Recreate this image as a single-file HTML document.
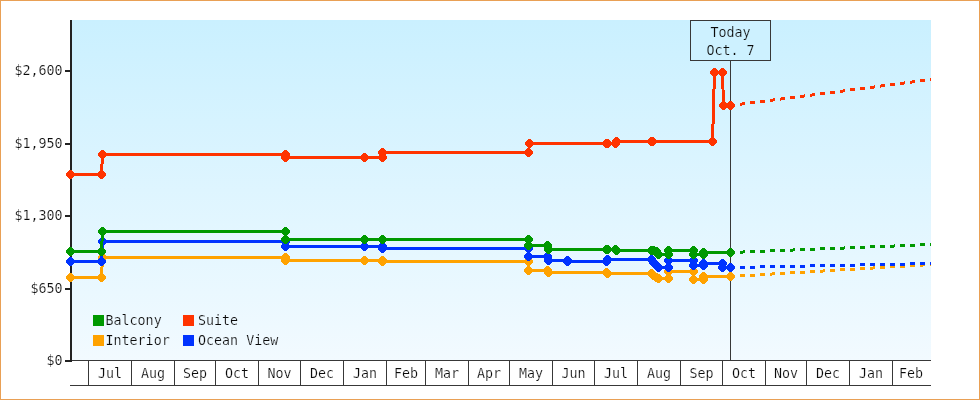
<!DOCTYPE html>
<html lang="en">
<head>
<meta charset="utf-8">
<title>Price history</title>
<style>
html,body{margin:0;padding:0;background:#fff;}
body{width:980px;height:400px;overflow:hidden;}
svg{display:block;will-change:transform;}
text{font-family:"DejaVu Sans Mono", "Liberation Mono", monospace;font-size:13.33px;fill:#0a0a0a;paint-order:fill stroke;stroke:#fff;stroke-width:0.2px;}
.lg text{stroke:#EDF7FF;}
.tb text{stroke:#CDF1FF;}
</style>
</head>
<body>
<svg width="980" height="400" viewBox="0 0 980 400">
<defs>
<linearGradient id="bg" x1="0" y1="0" x2="0" y2="1">
<stop offset="0" stop-color="#CAF0FF"/>
<stop offset="1" stop-color="#F2FAFF"/>
</linearGradient>
</defs>
<rect x="0" y="0" width="980" height="400" fill="#fff"/>
<rect x="0.5" y="0.5" width="979" height="399" fill="none" stroke="#E9A055" stroke-width="1"/>
<rect x="72" y="20" width="859" height="340" fill="url(#bg)"/>
<g shape-rendering="crispEdges" fill="#222">
<rect x="70" y="20" width="2" height="342"/>
<rect x="65" y="70" width="6" height="2"/>
<rect x="65" y="143" width="6" height="2"/>
<rect x="65" y="215" width="6" height="2"/>
<rect x="65" y="288" width="6" height="2"/>
<rect x="65" y="360" width="6" height="2"/>
</g>
<g shape-rendering="crispEdges" fill="#383838">
<rect x="72" y="360" width="859" height="1"/>
<rect x="70" y="385" width="861" height="1"/>
<rect x="88" y="360" width="1" height="26"/>
<rect x="131" y="360" width="1" height="26"/>
<rect x="174" y="360" width="1" height="26"/>
<rect x="215" y="360" width="1" height="26"/>
<rect x="258" y="360" width="1" height="26"/>
<rect x="300" y="360" width="1" height="26"/>
<rect x="343" y="360" width="1" height="26"/>
<rect x="386" y="360" width="1" height="26"/>
<rect x="425" y="360" width="1" height="26"/>
<rect x="468" y="360" width="1" height="26"/>
<rect x="509" y="360" width="1" height="26"/>
<rect x="552" y="360" width="1" height="26"/>
<rect x="594" y="360" width="1" height="26"/>
<rect x="637" y="360" width="1" height="26"/>
<rect x="680" y="360" width="1" height="26"/>
<rect x="722" y="360" width="1" height="26"/>
<rect x="765" y="360" width="1" height="26"/>
<rect x="806" y="360" width="1" height="26"/>
<rect x="849" y="360" width="1" height="26"/>
<rect x="892" y="360" width="1" height="26"/>
<rect x="730" y="60" width="1" height="300"/>
</g>
<g text-anchor="end">
<text x="62.6" y="75">$2,600</text>
<text x="62.6" y="148">$1,950</text>
<text x="62.6" y="220">$1,300</text>
<text x="62.6" y="293">$650</text>
<text x="62.6" y="365">$0</text>
</g>
<g text-anchor="middle">
<text x="110.0" y="378">Jul</text>
<text x="153.0" y="378">Aug</text>
<text x="195.0" y="378">Sep</text>
<text x="237.0" y="378">Oct</text>
<text x="279.5" y="378">Nov</text>
<text x="322.0" y="378">Dec</text>
<text x="365.0" y="378">Jan</text>
<text x="406.0" y="378">Feb</text>
<text x="447.0" y="378">Mar</text>
<text x="489.0" y="378">Apr</text>
<text x="531.0" y="378">May</text>
<text x="573.5" y="378">Jun</text>
<text x="616.0" y="378">Jul</text>
<text x="659.0" y="378">Aug</text>
<text x="701.5" y="378">Sep</text>
<text x="744.0" y="378">Oct</text>
<text x="786.0" y="378">Nov</text>
<text x="828.0" y="378">Dec</text>
<text x="871.0" y="378">Jan</text>
<text x="911" y="378">Feb</text>
</g>
<g shape-rendering="crispEdges">
<g fill="#FFA200">
<polyline points="70.5,277.5 101.5,277.5 102.5,257.5 285.5,257.5 285.5,260.5 364.5,260.5 382.5,260.5 382.5,261.5 528.5,261.5 528.5,270.5 547.5,270.5 548.5,272.5 606.5,272.5 607.5,273.5 651.5,273.5 653.5,275.5 656.5,277.5 658.5,278.5 668.5,278.5 668.5,271.5 693.5,271.5 693.5,279.5 703.5,279.5 703.5,276.5 730.5,276.5" fill="none" stroke="#FFA200" stroke-width="3" stroke-linejoin="round"/>
<path transform="translate(70,277)" d="M-1,-4H2V-3H3V-2H4V-1H5V2H4V3H3V4H2V5H-1V4H-2V3H-3V2H-4V-1H-3V-2H-2V-3H-1Z"/>
<path transform="translate(101,277)" d="M-1,-4H2V-3H3V-2H4V-1H5V2H4V3H3V4H2V5H-1V4H-2V3H-3V2H-4V-1H-3V-2H-2V-3H-1Z"/>
<path transform="translate(102,257)" d="M-1,-4H2V-3H3V-2H4V-1H5V2H4V3H3V4H2V5H-1V4H-2V3H-3V2H-4V-1H-3V-2H-2V-3H-1Z"/>
<path transform="translate(285,257)" d="M-1,-4H2V-3H3V-2H4V-1H5V2H4V3H3V4H2V5H-1V4H-2V3H-3V2H-4V-1H-3V-2H-2V-3H-1Z"/>
<path transform="translate(285,260)" d="M-1,-4H2V-3H3V-2H4V-1H5V2H4V3H3V4H2V5H-1V4H-2V3H-3V2H-4V-1H-3V-2H-2V-3H-1Z"/>
<path transform="translate(364,260)" d="M-1,-4H2V-3H3V-2H4V-1H5V2H4V3H3V4H2V5H-1V4H-2V3H-3V2H-4V-1H-3V-2H-2V-3H-1Z"/>
<path transform="translate(382,260)" d="M-1,-4H2V-3H3V-2H4V-1H5V2H4V3H3V4H2V5H-1V4H-2V3H-3V2H-4V-1H-3V-2H-2V-3H-1Z"/>
<path transform="translate(382,261)" d="M-1,-4H2V-3H3V-2H4V-1H5V2H4V3H3V4H2V5H-1V4H-2V3H-3V2H-4V-1H-3V-2H-2V-3H-1Z"/>
<path transform="translate(528,261)" d="M-1,-4H2V-3H3V-2H4V-1H5V2H4V3H3V4H2V5H-1V4H-2V3H-3V2H-4V-1H-3V-2H-2V-3H-1Z"/>
<path transform="translate(528,270)" d="M-1,-4H2V-3H3V-2H4V-1H5V2H4V3H3V4H2V5H-1V4H-2V3H-3V2H-4V-1H-3V-2H-2V-3H-1Z"/>
<path transform="translate(547,270)" d="M-1,-4H2V-3H3V-2H4V-1H5V2H4V3H3V4H2V5H-1V4H-2V3H-3V2H-4V-1H-3V-2H-2V-3H-1Z"/>
<path transform="translate(548,272)" d="M-1,-4H2V-3H3V-2H4V-1H5V2H4V3H3V4H2V5H-1V4H-2V3H-3V2H-4V-1H-3V-2H-2V-3H-1Z"/>
<path transform="translate(606,272)" d="M-1,-4H2V-3H3V-2H4V-1H5V2H4V3H3V4H2V5H-1V4H-2V3H-3V2H-4V-1H-3V-2H-2V-3H-1Z"/>
<path transform="translate(607,273)" d="M-1,-4H2V-3H3V-2H4V-1H5V2H4V3H3V4H2V5H-1V4H-2V3H-3V2H-4V-1H-3V-2H-2V-3H-1Z"/>
<path transform="translate(651,273)" d="M-1,-4H2V-3H3V-2H4V-1H5V2H4V3H3V4H2V5H-1V4H-2V3H-3V2H-4V-1H-3V-2H-2V-3H-1Z"/>
<path transform="translate(653,275)" d="M-1,-4H2V-3H3V-2H4V-1H5V2H4V3H3V4H2V5H-1V4H-2V3H-3V2H-4V-1H-3V-2H-2V-3H-1Z"/>
<path transform="translate(656,277)" d="M-1,-4H2V-3H3V-2H4V-1H5V2H4V3H3V4H2V5H-1V4H-2V3H-3V2H-4V-1H-3V-2H-2V-3H-1Z"/>
<path transform="translate(658,278)" d="M-1,-4H2V-3H3V-2H4V-1H5V2H4V3H3V4H2V5H-1V4H-2V3H-3V2H-4V-1H-3V-2H-2V-3H-1Z"/>
<path transform="translate(668,278)" d="M-1,-4H2V-3H3V-2H4V-1H5V2H4V3H3V4H2V5H-1V4H-2V3H-3V2H-4V-1H-3V-2H-2V-3H-1Z"/>
<path transform="translate(668,271)" d="M-1,-4H2V-3H3V-2H4V-1H5V2H4V3H3V4H2V5H-1V4H-2V3H-3V2H-4V-1H-3V-2H-2V-3H-1Z"/>
<path transform="translate(693,271)" d="M-1,-4H2V-3H3V-2H4V-1H5V2H4V3H3V4H2V5H-1V4H-2V3H-3V2H-4V-1H-3V-2H-2V-3H-1Z"/>
<path transform="translate(693,279)" d="M-1,-4H2V-3H3V-2H4V-1H5V2H4V3H3V4H2V5H-1V4H-2V3H-3V2H-4V-1H-3V-2H-2V-3H-1Z"/>
<path transform="translate(703,279)" d="M-1,-4H2V-3H3V-2H4V-1H5V2H4V3H3V4H2V5H-1V4H-2V3H-3V2H-4V-1H-3V-2H-2V-3H-1Z"/>
<path transform="translate(703,276)" d="M-1,-4H2V-3H3V-2H4V-1H5V2H4V3H3V4H2V5H-1V4H-2V3H-3V2H-4V-1H-3V-2H-2V-3H-1Z"/>
<path transform="translate(730,276)" d="M-1,-4H2V-3H3V-2H4V-1H5V2H4V3H3V4H2V5H-1V4H-2V3H-3V2H-4V-1H-3V-2H-2V-3H-1Z"/>
</g>
<g fill="#0033FF">
<polyline points="70.5,261.5 101.5,261.5 102.5,241.5 285.5,241.5 285.5,246.5 364.5,246.5 382.5,246.5 382.5,248.5 528.5,248.5 528.5,256.5 547.5,256.5 548.5,260.5 567.5,260.5 567.5,261.5 606.5,261.5 607.5,259.5 651.5,259.5 653.5,262.5 656.5,265.5 658.5,267.5 668.5,267.5 668.5,260.5 693.5,260.5 693.5,265.5 703.5,265.5 703.5,263.5 722.5,263.5 722.5,267.5 730.5,267.5" fill="none" stroke="#0033FF" stroke-width="3" stroke-linejoin="round"/>
<path transform="translate(70,261)" d="M-1,-4H2V-3H3V-2H4V-1H5V2H4V3H3V4H2V5H-1V4H-2V3H-3V2H-4V-1H-3V-2H-2V-3H-1Z"/>
<path transform="translate(101,261)" d="M-1,-4H2V-3H3V-2H4V-1H5V2H4V3H3V4H2V5H-1V4H-2V3H-3V2H-4V-1H-3V-2H-2V-3H-1Z"/>
<path transform="translate(102,241)" d="M-1,-4H2V-3H3V-2H4V-1H5V2H4V3H3V4H2V5H-1V4H-2V3H-3V2H-4V-1H-3V-2H-2V-3H-1Z"/>
<path transform="translate(285,241)" d="M-1,-4H2V-3H3V-2H4V-1H5V2H4V3H3V4H2V5H-1V4H-2V3H-3V2H-4V-1H-3V-2H-2V-3H-1Z"/>
<path transform="translate(285,246)" d="M-1,-4H2V-3H3V-2H4V-1H5V2H4V3H3V4H2V5H-1V4H-2V3H-3V2H-4V-1H-3V-2H-2V-3H-1Z"/>
<path transform="translate(364,246)" d="M-1,-4H2V-3H3V-2H4V-1H5V2H4V3H3V4H2V5H-1V4H-2V3H-3V2H-4V-1H-3V-2H-2V-3H-1Z"/>
<path transform="translate(382,246)" d="M-1,-4H2V-3H3V-2H4V-1H5V2H4V3H3V4H2V5H-1V4H-2V3H-3V2H-4V-1H-3V-2H-2V-3H-1Z"/>
<path transform="translate(382,248)" d="M-1,-4H2V-3H3V-2H4V-1H5V2H4V3H3V4H2V5H-1V4H-2V3H-3V2H-4V-1H-3V-2H-2V-3H-1Z"/>
<path transform="translate(528,248)" d="M-1,-4H2V-3H3V-2H4V-1H5V2H4V3H3V4H2V5H-1V4H-2V3H-3V2H-4V-1H-3V-2H-2V-3H-1Z"/>
<path transform="translate(528,256)" d="M-1,-4H2V-3H3V-2H4V-1H5V2H4V3H3V4H2V5H-1V4H-2V3H-3V2H-4V-1H-3V-2H-2V-3H-1Z"/>
<path transform="translate(547,256)" d="M-1,-4H2V-3H3V-2H4V-1H5V2H4V3H3V4H2V5H-1V4H-2V3H-3V2H-4V-1H-3V-2H-2V-3H-1Z"/>
<path transform="translate(548,260)" d="M-1,-4H2V-3H3V-2H4V-1H5V2H4V3H3V4H2V5H-1V4H-2V3H-3V2H-4V-1H-3V-2H-2V-3H-1Z"/>
<path transform="translate(567,260)" d="M-1,-4H2V-3H3V-2H4V-1H5V2H4V3H3V4H2V5H-1V4H-2V3H-3V2H-4V-1H-3V-2H-2V-3H-1Z"/>
<path transform="translate(567,261)" d="M-1,-4H2V-3H3V-2H4V-1H5V2H4V3H3V4H2V5H-1V4H-2V3H-3V2H-4V-1H-3V-2H-2V-3H-1Z"/>
<path transform="translate(606,261)" d="M-1,-4H2V-3H3V-2H4V-1H5V2H4V3H3V4H2V5H-1V4H-2V3H-3V2H-4V-1H-3V-2H-2V-3H-1Z"/>
<path transform="translate(607,259)" d="M-1,-4H2V-3H3V-2H4V-1H5V2H4V3H3V4H2V5H-1V4H-2V3H-3V2H-4V-1H-3V-2H-2V-3H-1Z"/>
<path transform="translate(651,259)" d="M-1,-4H2V-3H3V-2H4V-1H5V2H4V3H3V4H2V5H-1V4H-2V3H-3V2H-4V-1H-3V-2H-2V-3H-1Z"/>
<path transform="translate(653,262)" d="M-1,-4H2V-3H3V-2H4V-1H5V2H4V3H3V4H2V5H-1V4H-2V3H-3V2H-4V-1H-3V-2H-2V-3H-1Z"/>
<path transform="translate(656,265)" d="M-1,-4H2V-3H3V-2H4V-1H5V2H4V3H3V4H2V5H-1V4H-2V3H-3V2H-4V-1H-3V-2H-2V-3H-1Z"/>
<path transform="translate(658,267)" d="M-1,-4H2V-3H3V-2H4V-1H5V2H4V3H3V4H2V5H-1V4H-2V3H-3V2H-4V-1H-3V-2H-2V-3H-1Z"/>
<path transform="translate(668,267)" d="M-1,-4H2V-3H3V-2H4V-1H5V2H4V3H3V4H2V5H-1V4H-2V3H-3V2H-4V-1H-3V-2H-2V-3H-1Z"/>
<path transform="translate(668,260)" d="M-1,-4H2V-3H3V-2H4V-1H5V2H4V3H3V4H2V5H-1V4H-2V3H-3V2H-4V-1H-3V-2H-2V-3H-1Z"/>
<path transform="translate(693,260)" d="M-1,-4H2V-3H3V-2H4V-1H5V2H4V3H3V4H2V5H-1V4H-2V3H-3V2H-4V-1H-3V-2H-2V-3H-1Z"/>
<path transform="translate(693,265)" d="M-1,-4H2V-3H3V-2H4V-1H5V2H4V3H3V4H2V5H-1V4H-2V3H-3V2H-4V-1H-3V-2H-2V-3H-1Z"/>
<path transform="translate(703,265)" d="M-1,-4H2V-3H3V-2H4V-1H5V2H4V3H3V4H2V5H-1V4H-2V3H-3V2H-4V-1H-3V-2H-2V-3H-1Z"/>
<path transform="translate(703,263)" d="M-1,-4H2V-3H3V-2H4V-1H5V2H4V3H3V4H2V5H-1V4H-2V3H-3V2H-4V-1H-3V-2H-2V-3H-1Z"/>
<path transform="translate(722,263)" d="M-1,-4H2V-3H3V-2H4V-1H5V2H4V3H3V4H2V5H-1V4H-2V3H-3V2H-4V-1H-3V-2H-2V-3H-1Z"/>
<path transform="translate(722,267)" d="M-1,-4H2V-3H3V-2H4V-1H5V2H4V3H3V4H2V5H-1V4H-2V3H-3V2H-4V-1H-3V-2H-2V-3H-1Z"/>
<path transform="translate(730,267)" d="M-1,-4H2V-3H3V-2H4V-1H5V2H4V3H3V4H2V5H-1V4H-2V3H-3V2H-4V-1H-3V-2H-2V-3H-1Z"/>
</g>
<g fill="#009900">
<polyline points="70.5,251.5 101.5,251.5 102.5,231.5 285.5,231.5 285.5,239.5 364.5,239.5 382.5,239.5 528.5,239.5 528.5,245.5 547.5,245.5 548.5,249.5 606.5,249.5 607.5,249.5 615.5,249.5 616.5,250.5 651.5,250.5 653.5,250.5 656.5,251.5 658.5,254.5 668.5,254.5 668.5,250.5 693.5,250.5 693.5,254.5 703.5,254.5 703.5,252.5 730.5,252.5" fill="none" stroke="#009900" stroke-width="3" stroke-linejoin="round"/>
<path transform="translate(70,251)" d="M-1,-4H2V-3H3V-2H4V-1H5V2H4V3H3V4H2V5H-1V4H-2V3H-3V2H-4V-1H-3V-2H-2V-3H-1Z"/>
<path transform="translate(101,251)" d="M-1,-4H2V-3H3V-2H4V-1H5V2H4V3H3V4H2V5H-1V4H-2V3H-3V2H-4V-1H-3V-2H-2V-3H-1Z"/>
<path transform="translate(102,231)" d="M-1,-4H2V-3H3V-2H4V-1H5V2H4V3H3V4H2V5H-1V4H-2V3H-3V2H-4V-1H-3V-2H-2V-3H-1Z"/>
<path transform="translate(285,231)" d="M-1,-4H2V-3H3V-2H4V-1H5V2H4V3H3V4H2V5H-1V4H-2V3H-3V2H-4V-1H-3V-2H-2V-3H-1Z"/>
<path transform="translate(285,239)" d="M-1,-4H2V-3H3V-2H4V-1H5V2H4V3H3V4H2V5H-1V4H-2V3H-3V2H-4V-1H-3V-2H-2V-3H-1Z"/>
<path transform="translate(364,239)" d="M-1,-4H2V-3H3V-2H4V-1H5V2H4V3H3V4H2V5H-1V4H-2V3H-3V2H-4V-1H-3V-2H-2V-3H-1Z"/>
<path transform="translate(382,239)" d="M-1,-4H2V-3H3V-2H4V-1H5V2H4V3H3V4H2V5H-1V4H-2V3H-3V2H-4V-1H-3V-2H-2V-3H-1Z"/>
<path transform="translate(528,239)" d="M-1,-4H2V-3H3V-2H4V-1H5V2H4V3H3V4H2V5H-1V4H-2V3H-3V2H-4V-1H-3V-2H-2V-3H-1Z"/>
<path transform="translate(528,245)" d="M-1,-4H2V-3H3V-2H4V-1H5V2H4V3H3V4H2V5H-1V4H-2V3H-3V2H-4V-1H-3V-2H-2V-3H-1Z"/>
<path transform="translate(547,245)" d="M-1,-4H2V-3H3V-2H4V-1H5V2H4V3H3V4H2V5H-1V4H-2V3H-3V2H-4V-1H-3V-2H-2V-3H-1Z"/>
<path transform="translate(548,249)" d="M-1,-4H2V-3H3V-2H4V-1H5V2H4V3H3V4H2V5H-1V4H-2V3H-3V2H-4V-1H-3V-2H-2V-3H-1Z"/>
<path transform="translate(606,249)" d="M-1,-4H2V-3H3V-2H4V-1H5V2H4V3H3V4H2V5H-1V4H-2V3H-3V2H-4V-1H-3V-2H-2V-3H-1Z"/>
<path transform="translate(607,249)" d="M-1,-4H2V-3H3V-2H4V-1H5V2H4V3H3V4H2V5H-1V4H-2V3H-3V2H-4V-1H-3V-2H-2V-3H-1Z"/>
<path transform="translate(615,249)" d="M-1,-4H2V-3H3V-2H4V-1H5V2H4V3H3V4H2V5H-1V4H-2V3H-3V2H-4V-1H-3V-2H-2V-3H-1Z"/>
<path transform="translate(616,250)" d="M-1,-4H2V-3H3V-2H4V-1H5V2H4V3H3V4H2V5H-1V4H-2V3H-3V2H-4V-1H-3V-2H-2V-3H-1Z"/>
<path transform="translate(651,250)" d="M-1,-4H2V-3H3V-2H4V-1H5V2H4V3H3V4H2V5H-1V4H-2V3H-3V2H-4V-1H-3V-2H-2V-3H-1Z"/>
<path transform="translate(653,250)" d="M-1,-4H2V-3H3V-2H4V-1H5V2H4V3H3V4H2V5H-1V4H-2V3H-3V2H-4V-1H-3V-2H-2V-3H-1Z"/>
<path transform="translate(656,251)" d="M-1,-4H2V-3H3V-2H4V-1H5V2H4V3H3V4H2V5H-1V4H-2V3H-3V2H-4V-1H-3V-2H-2V-3H-1Z"/>
<path transform="translate(658,254)" d="M-1,-4H2V-3H3V-2H4V-1H5V2H4V3H3V4H2V5H-1V4H-2V3H-3V2H-4V-1H-3V-2H-2V-3H-1Z"/>
<path transform="translate(668,254)" d="M-1,-4H2V-3H3V-2H4V-1H5V2H4V3H3V4H2V5H-1V4H-2V3H-3V2H-4V-1H-3V-2H-2V-3H-1Z"/>
<path transform="translate(668,250)" d="M-1,-4H2V-3H3V-2H4V-1H5V2H4V3H3V4H2V5H-1V4H-2V3H-3V2H-4V-1H-3V-2H-2V-3H-1Z"/>
<path transform="translate(693,250)" d="M-1,-4H2V-3H3V-2H4V-1H5V2H4V3H3V4H2V5H-1V4H-2V3H-3V2H-4V-1H-3V-2H-2V-3H-1Z"/>
<path transform="translate(693,254)" d="M-1,-4H2V-3H3V-2H4V-1H5V2H4V3H3V4H2V5H-1V4H-2V3H-3V2H-4V-1H-3V-2H-2V-3H-1Z"/>
<path transform="translate(703,254)" d="M-1,-4H2V-3H3V-2H4V-1H5V2H4V3H3V4H2V5H-1V4H-2V3H-3V2H-4V-1H-3V-2H-2V-3H-1Z"/>
<path transform="translate(703,252)" d="M-1,-4H2V-3H3V-2H4V-1H5V2H4V3H3V4H2V5H-1V4H-2V3H-3V2H-4V-1H-3V-2H-2V-3H-1Z"/>
<path transform="translate(730,252)" d="M-1,-4H2V-3H3V-2H4V-1H5V2H4V3H3V4H2V5H-1V4H-2V3H-3V2H-4V-1H-3V-2H-2V-3H-1Z"/>
</g>
<g fill="#FF3300">
<polyline points="70.5,174.5 101.5,174.5 102.5,154.5 285.5,154.5 285.5,157.5 364.5,157.5 382.5,157.5 382.5,152.5 528.5,152.5 529.5,143.5 606.5,143.5 607.5,143.5 615.5,143.5 616.5,141.5 651.5,141.5 652.5,141.5 712.5,141.5 714.5,72.5 722.5,72.5 723.5,105.5 730.5,105.5" fill="none" stroke="#FF3300" stroke-width="3" stroke-linejoin="round"/>
<path transform="translate(70,174)" d="M-1,-4H2V-3H3V-2H4V-1H5V2H4V3H3V4H2V5H-1V4H-2V3H-3V2H-4V-1H-3V-2H-2V-3H-1Z"/>
<path transform="translate(101,174)" d="M-1,-4H2V-3H3V-2H4V-1H5V2H4V3H3V4H2V5H-1V4H-2V3H-3V2H-4V-1H-3V-2H-2V-3H-1Z"/>
<path transform="translate(102,154)" d="M-1,-4H2V-3H3V-2H4V-1H5V2H4V3H3V4H2V5H-1V4H-2V3H-3V2H-4V-1H-3V-2H-2V-3H-1Z"/>
<path transform="translate(285,154)" d="M-1,-4H2V-3H3V-2H4V-1H5V2H4V3H3V4H2V5H-1V4H-2V3H-3V2H-4V-1H-3V-2H-2V-3H-1Z"/>
<path transform="translate(285,157)" d="M-1,-4H2V-3H3V-2H4V-1H5V2H4V3H3V4H2V5H-1V4H-2V3H-3V2H-4V-1H-3V-2H-2V-3H-1Z"/>
<path transform="translate(364,157)" d="M-1,-4H2V-3H3V-2H4V-1H5V2H4V3H3V4H2V5H-1V4H-2V3H-3V2H-4V-1H-3V-2H-2V-3H-1Z"/>
<path transform="translate(382,157)" d="M-1,-4H2V-3H3V-2H4V-1H5V2H4V3H3V4H2V5H-1V4H-2V3H-3V2H-4V-1H-3V-2H-2V-3H-1Z"/>
<path transform="translate(382,152)" d="M-1,-4H2V-3H3V-2H4V-1H5V2H4V3H3V4H2V5H-1V4H-2V3H-3V2H-4V-1H-3V-2H-2V-3H-1Z"/>
<path transform="translate(528,152)" d="M-1,-4H2V-3H3V-2H4V-1H5V2H4V3H3V4H2V5H-1V4H-2V3H-3V2H-4V-1H-3V-2H-2V-3H-1Z"/>
<path transform="translate(529,143)" d="M-1,-4H2V-3H3V-2H4V-1H5V2H4V3H3V4H2V5H-1V4H-2V3H-3V2H-4V-1H-3V-2H-2V-3H-1Z"/>
<path transform="translate(606,143)" d="M-1,-4H2V-3H3V-2H4V-1H5V2H4V3H3V4H2V5H-1V4H-2V3H-3V2H-4V-1H-3V-2H-2V-3H-1Z"/>
<path transform="translate(607,143)" d="M-1,-4H2V-3H3V-2H4V-1H5V2H4V3H3V4H2V5H-1V4H-2V3H-3V2H-4V-1H-3V-2H-2V-3H-1Z"/>
<path transform="translate(615,143)" d="M-1,-4H2V-3H3V-2H4V-1H5V2H4V3H3V4H2V5H-1V4H-2V3H-3V2H-4V-1H-3V-2H-2V-3H-1Z"/>
<path transform="translate(616,141)" d="M-1,-4H2V-3H3V-2H4V-1H5V2H4V3H3V4H2V5H-1V4H-2V3H-3V2H-4V-1H-3V-2H-2V-3H-1Z"/>
<path transform="translate(651,141)" d="M-1,-4H2V-3H3V-2H4V-1H5V2H4V3H3V4H2V5H-1V4H-2V3H-3V2H-4V-1H-3V-2H-2V-3H-1Z"/>
<path transform="translate(652,141)" d="M-1,-4H2V-3H3V-2H4V-1H5V2H4V3H3V4H2V5H-1V4H-2V3H-3V2H-4V-1H-3V-2H-2V-3H-1Z"/>
<path transform="translate(712,141)" d="M-1,-4H2V-3H3V-2H4V-1H5V2H4V3H3V4H2V5H-1V4H-2V3H-3V2H-4V-1H-3V-2H-2V-3H-1Z"/>
<path transform="translate(714,72)" d="M-1,-4H2V-3H3V-2H4V-1H5V2H4V3H3V4H2V5H-1V4H-2V3H-3V2H-4V-1H-3V-2H-2V-3H-1Z"/>
<path transform="translate(722,72)" d="M-1,-4H2V-3H3V-2H4V-1H5V2H4V3H3V4H2V5H-1V4H-2V3H-3V2H-4V-1H-3V-2H-2V-3H-1Z"/>
<path transform="translate(723,105)" d="M-1,-4H2V-3H3V-2H4V-1H5V2H4V3H3V4H2V5H-1V4H-2V3H-3V2H-4V-1H-3V-2H-2V-3H-1Z"/>
<path transform="translate(730,105)" d="M-1,-4H2V-3H3V-2H4V-1H5V2H4V3H3V4H2V5H-1V4H-2V3H-3V2H-4V-1H-3V-2H-2V-3H-1Z"/>
</g>
<path d="M740,274h5v3h-5zM750,274h5v3h-5zM760,273h5v3h-5zM770,273h2v3h-2zM772,272h3v3h-3zM780,272h5v3h-5zM790,271h5v3h-5zM800,271h5v3h-5zM810,270h5v3h-5zM820,270h3v3h-3zM823,269h2v3h-2zM830,269h5v3h-5zM840,268h5v3h-5zM850,268h5v3h-5zM860,267h5v3h-5zM870,267h3v3h-3zM873,266h2v3h-2zM880,266h5v3h-5zM890,265h5v3h-5zM900,265h5v3h-5zM910,264h5v3h-5zM920,264h3v3h-3zM923,263h2v3h-2zM930,263h1v3h-1z" fill="#FFA200"/>
<path d="M740,266h5v3h-5zM750,266h5v3h-5zM760,265h5v3h-5zM770,265h5v3h-5zM780,265h5v3h-5zM790,265h5v3h-5zM800,265h5v3h-5zM810,264h5v3h-5zM820,264h5v3h-5zM830,264h5v3h-5zM840,264h5v3h-5zM850,264h5v3h-5zM860,263h5v3h-5zM870,263h5v3h-5zM880,263h5v3h-5zM890,263h5v3h-5zM900,263h5v3h-5zM910,262h5v3h-5zM920,262h5v3h-5zM930,262h1v3h-1z" fill="#0033FF"/>
<path d="M740,251h3v3h-3zM743,250h2v3h-2zM750,250h5v3h-5zM760,250h5v3h-5zM770,249h5v3h-5zM780,249h5v3h-5zM790,249h3v3h-3zM793,248h2v3h-2zM800,248h5v3h-5zM810,248h5v3h-5zM820,247h5v3h-5zM830,247h5v3h-5zM840,247h4v3h-4zM844,246h1v3h-1zM850,246h5v3h-5zM860,246h5v3h-5zM870,245h5v3h-5zM880,245h5v3h-5zM890,245h4v3h-4zM894,244h1v3h-1zM900,244h5v3h-5zM910,244h5v3h-5zM920,243h5v3h-5zM930,243h1v3h-1z" fill="#009900"/>
<path d="M740,103h2v3h-2zM742,102h3v3h-3zM750,101h5v3h-5zM760,100h5v3h-5zM770,99h3v3h-3zM773,98h2v3h-2zM780,98h1v3h-1zM781,97h4v3h-4zM790,96h5v3h-5zM800,95h4v3h-4zM804,94h1v3h-1zM810,94h2v3h-2zM812,93h3v3h-3zM820,92h5v3h-5zM830,91h5v3h-5zM840,90h3v3h-3zM843,89h2v3h-2zM850,88h5v3h-5zM860,87h5v3h-5zM870,86h4v3h-4zM874,85h1v3h-1zM880,85h1v3h-1zM881,84h4v3h-4zM890,83h5v3h-5zM900,82h4v3h-4zM904,81h1v3h-1zM910,81h2v3h-2zM912,80h3v3h-3zM920,79h5v3h-5zM930,78h1v3h-1z" fill="#FF3300"/>
</g>
<rect x="690.5" y="20.5" width="80" height="40" fill="#CDF1FF" stroke="#383838" stroke-width="1"/>
<g class="tb" text-anchor="middle"><text x="730.5" y="37">Today</text><text x="730.5" y="55">Oct. 7</text></g>
<g class="lg">
<rect x="93" y="315" width="11" height="11" fill="#009900" shape-rendering="crispEdges"/>
<text x="105.5" y="325">Balcony</text>
<rect x="183" y="315" width="11" height="11" fill="#FF3300" shape-rendering="crispEdges"/>
<text x="198" y="325">Suite</text>
<rect x="93" y="335" width="11" height="11" fill="#FFA200" shape-rendering="crispEdges"/>
<text x="105.5" y="345">Interior</text>
<rect x="183" y="335" width="11" height="11" fill="#0033FF" shape-rendering="crispEdges"/>
<text x="198" y="345">Ocean View</text>
</g>
</svg>
</body>
</html>
